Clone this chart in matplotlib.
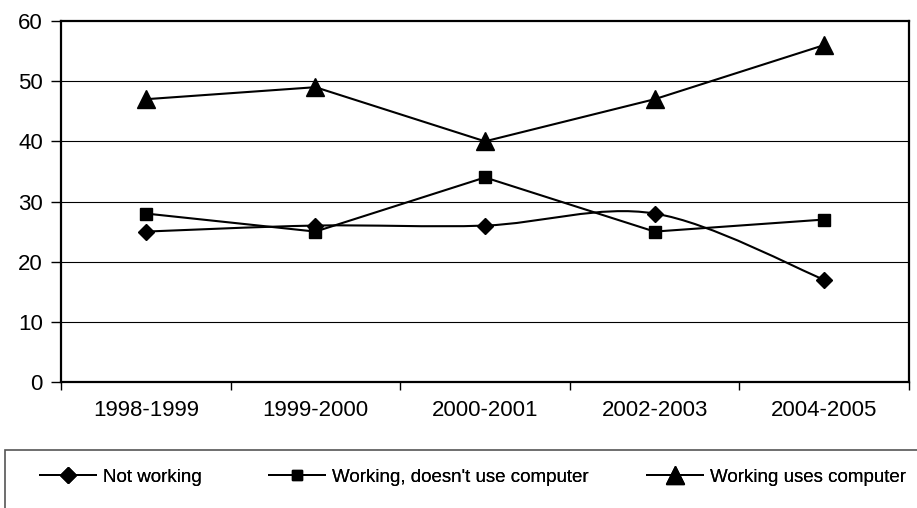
import numpy as np
import matplotlib
matplotlib.use('Agg')
import matplotlib.pyplot as plt
from matplotlib.path import Path
from matplotlib.patches import PathPatch
from matplotlib.lines import Line2D

plt.rcParams['font.family'] = ['Liberation Sans', 'DejaVu Sans']

years = ['1998-1999', '1999-2000', '2000-2001', '2002-2003', '2004-2005']
not_working = [25, 26, 26, 28, 17]
working_no_computer = [28, 25, 34, 25, 27]
working_computer = [47, 49, 40, 47, 56]


def smooth_path(xs, ys):
    # Excel-style smoothed line: cubic bezier through every point
    pts = np.column_stack([xs, ys]).astype(float)
    n = len(pts)
    verts = [pts[0]]
    codes = [Path.MOVETO]
    for i in range(n - 1):
        p0 = pts[max(i - 1, 0)]
        p1 = pts[i]
        p2 = pts[i + 1]
        p3 = pts[min(i + 2, n - 1)]
        c1 = p1 + (p2 - p0) / 6.0
        c2 = p2 - (p3 - p1) / 6.0
        verts += [c1, c2, p2]
        codes += [Path.CURVE4] * 3
    return Path(verts, codes)


fig = plt.figure(figsize=(9.17, 5.08), dpi=100)
ax = fig.add_axes([61 / 917, 1 - 382 / 508, 848 / 917, 361 / 508])

x = np.arange(len(years))

for y in [10, 20, 30, 40, 50]:
    ax.axhline(y, color='black', linewidth=0.8, zorder=1)

# not working (smoothed)
ax.add_patch(PathPatch(smooth_path(x, not_working), facecolor='none',
                       edgecolor='black', linewidth=1.5, zorder=3))
ax.plot(x, not_working, linestyle='none', marker='D', markersize=8.5,
        color='black', zorder=4)

ax.plot(x, working_no_computer, color='black', linewidth=1.5,
        marker='s', markersize=8, zorder=4)
ax.plot(x, working_computer, color='black', linewidth=1.5,
        marker='^', markersize=13, zorder=4)

ax.set_xlim(-0.5, len(years) - 0.5)
ax.set_ylim(0, 60)
ax.set_yticks(range(0, 61, 10))
ax.set_xticks(x)
ax.set_xticklabels(years)
ax.set_xticks(np.arange(-0.5, len(years)), minor=True)
ax.tick_params(axis='x', which='major', length=0, pad=13, labelsize=16)
ax.tick_params(axis='x', which='minor', length=6, direction='out', width=1)
ax.tick_params(axis='y', length=7, direction='out', width=1, pad=6,
               labelsize=16)

for s in ax.spines:
    ax.spines[s].set_linewidth(1.6)

# legend box
box = plt.Rectangle((5 / 917, -0.1), 1.0, (508 - 450) / 508 + 0.1,
                    transform=fig.transFigure, facecolor='none',
                    edgecolor='#555555', linewidth=1.2)
fig.add_artist(box)

entries = [
    ('Not working', 'D', 8, 40),
    ("Working, doesn't use computer", 's', 7.5, 269),
    ('Working uses computer', '^', 13, 647),
]
leg_font = {'family': ['Liberation Sans Narrow', 'Liberation Sans', 'DejaVu Sans'],
            'size': 13.5}
for label, mk, ms, x0 in entries:
    h = Line2D([0], [0], color='black', linewidth=1.4, marker=mk,
               markersize=ms)
    leg = fig.legend([h], [label], loc='center left',
                     bbox_to_anchor=(x0 / 917, 1 - 477 / 508),
                     frameon=False, handlelength=3.0, handletextpad=0.35,
                     borderpad=0, borderaxespad=0, prop=leg_font)
    fig.add_artist(leg)

fig.savefig('out.png', dpi=100)
